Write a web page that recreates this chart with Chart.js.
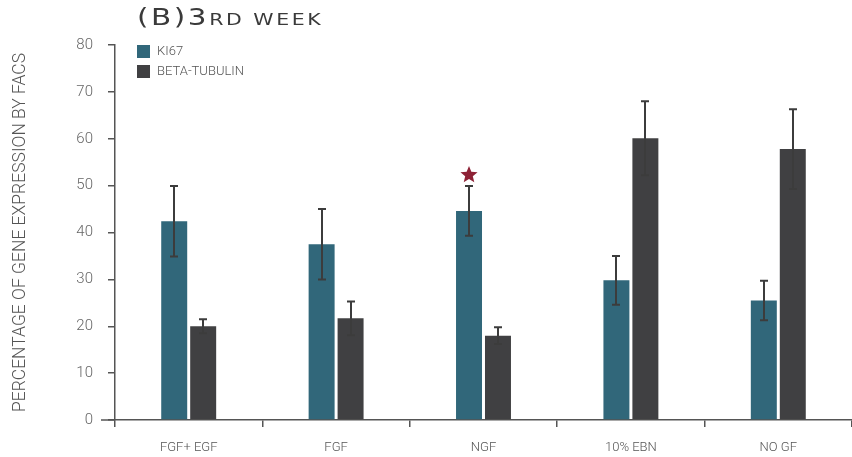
<!DOCTYPE html>
<html>
<head>
<meta charset="utf-8">
<script src="https://cdn.jsdelivr.net/npm/chart.js@4.4.1/dist/chart.umd.min.js"></script>
<style>
  html, body { margin: 0; padding: 0; background: #ffffff; }
  #wrap { position: relative; width: 852px; height: 457px; overflow: hidden; }
  #title {
    position: absolute; left: 137px; top: 4px;
    font-family: "DejaVu Sans", sans-serif; font-size: 23px;
    letter-spacing: 2px; color: #3a3a3a;
    transform: scaleX(1.28); transform-origin: left top; white-space: nowrap;
  }
  #title .sc { font-size: 16px; }
  canvas { position: absolute; left: 0; top: 0; }
</style>
</head>
<body>
<div id="wrap">
  <canvas id="c" width="852" height="457"></canvas>
  <div id="title">(B)3<span class="sc">RD WEEK</span></div>
</div>
<script>
const categories = ["FGF+ EGF", "FGF", "NGF", "10% EBN", "NO GF"];
const seriesNames = ["KI67", "BETA-TUBULIN"];
const ki67 = [42.4, 37.5, 44.6, 29.8, 25.5];
const ki67Err = [7.5, 7.5, 5.3, 5.2, 4.2];
const betaTubulin = [20.0, 21.7, 18.0, 60.1, 57.8];
const betaErr = [1.5, 3.6, 1.8, 7.9, 8.5];
const significant = [false, false, true, false, false]; // star above KI67 bar
const yTicks = [0, 10, 20, 30, 40, 50, 60, 70, 80];
const yTitle = "PERCENTAGE OF GENE EXPRESSION BY FACS";

const colors = ["#31677a", "#404042"];
const labelFont = '"Roboto", sans-serif';

const errorBars = {
  id: "errorBars",
  afterDatasetsDraw(chart) {
    const ctx = chart.ctx;
    const y = chart.scales.y;
    const errs = [ki67Err, betaErr];
    ctx.save();
    ctx.strokeStyle = "#3c3c3c";
    ctx.lineWidth = 2;
    chart.data.datasets.forEach((ds, di) => {
      const meta = chart.getDatasetMeta(di);
      meta.data.forEach((bar, i) => {
        const v = ds.data[i], e = errs[di][i];
        const top = y.getPixelForValue(v + e);
        const bot = y.getPixelForValue(v - e);
        const x = Math.round(bar.x);
        ctx.beginPath();
        ctx.moveTo(x, bot); ctx.lineTo(x, top);
        ctx.moveTo(x - 4, top); ctx.lineTo(x + 4, top);
        ctx.moveTo(x - 4, bot); ctx.lineTo(x + 4, bot);
        ctx.stroke();
        if (di === 0 && significant[i]) {
          drawStar(ctx, x, top - 11, 9, 4);
        }
      });
    });
    ctx.restore();
  }
};

function drawStar(ctx, cx, cy, ro, ri) {
  ctx.save();
  ctx.fillStyle = "#8e2236";
  ctx.beginPath();
  for (let k = 0; k < 10; k++) {
    const r = k % 2 === 0 ? ro : ri;
    const a = -Math.PI / 2 + k * Math.PI / 5;
    const px = cx + r * Math.cos(a), py = cy + r * Math.sin(a);
    if (k === 0) ctx.moveTo(px, py); else ctx.lineTo(px, py);
  }
  ctx.closePath();
  ctx.fill();
  ctx.restore();
}

const customLegend = {
  id: "customLegend",
  afterDraw(chart) {
    const ctx = chart.ctx;
    ctx.save();
    ctx.font = "300 13px " + labelFont;
    ctx.textBaseline = "middle";
    chart.data.datasets.forEach((ds, i) => {
      const y0 = 45 + i * 20;
      ctx.fillStyle = ds.backgroundColor;
      ctx.fillRect(137, y0, 13, 13);
      ctx.fillStyle = "#555555";
      ctx.fillText(ds.label, 157, y0 + 7);
    });
    // x-axis extension to the left of the y-axis
    const xs = chart.scales.x;
    ctx.strokeStyle = "#555555";
    ctx.lineWidth = 1.5;
    ctx.beginPath();
    ctx.moveTo(101, xs.top);
    ctx.lineTo(chart.chartArea.left, xs.top);
    ctx.stroke();
    ctx.restore();
  }
};

new Chart(document.getElementById("c"), {
  type: "bar",
  data: {
    labels: categories,
    datasets: [
      { label: seriesNames[0], data: ki67, backgroundColor: colors[0] },
      { label: seriesNames[1], data: betaTubulin, backgroundColor: colors[1] }
    ]
  },
  options: {
    responsive: false,
    animation: false,
    devicePixelRatio: 1,
    categoryPercentage: 0.393,
    barPercentage: 0.897,
    layout: { padding: { top: 45, right: 0, left: 0, bottom: 0 } },
    plugins: { legend: { display: false }, tooltip: { enabled: false }, title: { display: false } },
    scales: {
      x: {
        afterFit(s) { s.height = 37; },
        border: { display: true, color: "#555555", width: 1.5 },
        grid: { display: true, drawOnChartArea: false, drawTicks: true, tickLength: 7, color: "#555555", lineWidth: 1.5, offset: true },
        ticks: { color: "#555555", font: { family: labelFont, size: 13, weight: 300 }, padding: 13 }
      },
      y: {
        min: 0, max: 80,
        afterFit(s) { s.width = 115; },
        afterBuildTicks(s) { s.ticks = yTicks.map(v => ({ value: v })); },
        border: { display: true, color: "#555555", width: 1.5 },
        grid: { display: true, drawOnChartArea: false, drawTicks: true, tickLength: 7, color: "#555555", lineWidth: 1.5 },
        ticks: { color: "#666666", font: { family: labelFont, size: 15, weight: 300 }, padding: 15 },
        title: { display: true, text: yTitle, color: "#555555", font: { family: labelFont, size: 17.5, weight: 300 }, padding: { top: 10, bottom: 0 } }
      }
    }
  },
  plugins: [errorBars, customLegend]
});
</script>
</body>
</html>
